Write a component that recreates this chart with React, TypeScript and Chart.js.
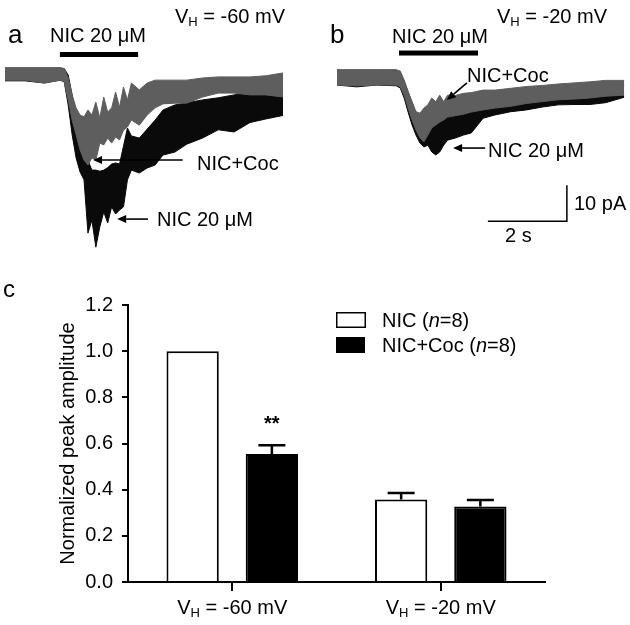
import React, { useEffect, useRef } from "react";
import { Chart, registerables } from "chart.js";

Chart.register(...registerables);

const FONT = 'Arial, "Liberation Sans", Helvetica, sans-serif';
const BLACK = "#0a0a0a";
const GRAY = "#5e5e5e";

// ---------- Panel a (VH = -60 mV): time (s) and current envelopes (pA) ----------
const timeA = [0, 0.5, 1.0, 1.4, 1.5, 1.6, 1.7, 1.8, 1.9, 2.0, 2.1, 2.2, 2.3, 2.4, 2.5, 2.6, 2.7, 2.8, 2.9, 3.0, 3.1, 3.2, 3.4, 3.6, 3.8, 4.0, 4.3, 4.6, 5.0, 5.4, 5.8, 6.2, 6.6, 7.04];
const nicUpperA = [1.7, 1.7, 1.7, 1.7, 1.5, -0.3, -5.8, -11.4, -15.6, -20.0, -24.0, -26.7, -26.7, -27.0, -26.7, -26.0, -25.0, -24.7, -25.0, -20.0, -15.0, -17.2, -17.8, -15.3, -12.8, -10.0, -8.6, -8.0, -7.2, -6.6, -5.8, -5.0, -4.4, -4.0];
const nicLowerA = [-1.9, -1.9, -2.5, -1.7, -2.2, -8.6, -16.9, -23.3, -27.2, -29.4, -44.2, -40.6, -48.1, -42.5, -38.3, -41.4, -36.9, -38.9, -37.8, -36.9, -29.4, -26.7, -27.5, -26.1, -25.3, -22.5, -21.7, -19.5, -17.8, -15.5, -16.1, -13.5, -12.5, -11.5];
const cocUpperA = [1.7, 1.7, 1.7, 1.7, 1.5, -1.1, -5.8, -9.4, -11.4, -11.9, -10.0, -11.4, -7.8, -12.2, -6.4, -10.6, -9.4, -5.0, -9.2, -3.6, -7.2, -2.5, -4.4, -2.5, -1.7, -1.7, -1.7, -1.7, -1.1, -0.8, -0.8, -0.8, -0.5, 0.3];
const cocLowerA = [-1.7, -1.7, -2.5, -1.7, -2.2, -7.2, -12.8, -16.9, -21.1, -23.9, -25.3, -23.3, -23.9, -19.2, -19.7, -17.8, -19.2, -17.5, -18.3, -15.6, -14.7, -12.8, -14.2, -11.4, -9.4, -8.3, -8.1, -8.1, -6.4, -5.3, -5.3, -5.8, -5.8, -6.4];

// ---------- Panel b (VH = -20 mV) ----------
const timeB = [0, 0.5, 1.0, 1.5, 1.6, 1.7, 1.8, 1.9, 2.0, 2.1, 2.2, 2.3, 2.4, 2.5, 2.6, 2.7, 2.8, 3.0, 3.2, 3.4, 3.7, 4.0, 4.4, 4.8, 5.2, 5.6, 6.0, 6.4, 6.8, 7.27];
const nicUpperB = [2.1, 2.1, 2.1, 2.1, 1.5, -1.0, -4.0, -7.0, -10.0, -12.0, -13.0, -12.0, -11.0, -10.0, -10.0, -9.5, -9.0, -8.0, -7.5, -7.0, -6.0, -5.5, -5.0, -4.5, -4.0, -3.5, -3.2, -3.0, -2.5, -2.0];
const nicLowerB = [-2.1, -2.6, -2.1, -2.3, -2.9, -5.7, -9.6, -13.2, -16.0, -18.2, -19.3, -18.8, -20.7, -21.5, -20.7, -18.8, -17.4, -16.8, -16.0, -15.4, -11.3, -10.4, -9.5, -9.0, -8.2, -7.6, -7.5, -7.5, -7.0, -5.5];
const cocUpperB = [2.1, 2.1, 2.1, 2.1, 1.8, -0.7, -3.9, -6.7, -9.5, -9.9, -8.5, -7.6, -5.7, -6.7, -4.9, -6.7, -4.9, -5.0, -4.4, -4.2, -3.5, -3.5, -3.0, -2.5, -2.2, -1.8, -1.5, -1.2, -0.8, -0.8];
const cocLowerB = [-2.1, -2.3, -2.1, -2.1, -2.6, -4.9, -8.5, -11.8, -14.6, -16.8, -17.9, -16.0, -14.0, -13.2, -12.4, -11.8, -11.0, -10.6, -10.2, -9.6, -9.0, -8.5, -8.0, -7.2, -6.7, -6.2, -6.0, -5.7, -5.2, -4.9];

// drug application windows (s)
const drugA = [1.39, 3.37];
const drugB = [1.57, 3.57];
// scale bar sizes
const scaleBarSeconds = 2;
const scaleBarPicoAmps = 10;

// ---------- Panel c: bar chart ----------
const holdingLabels = ["= -60 mV", "= -20 mV"];
const nicMean = [1.0, 0.357];
const nicSem = [0, 0.029];
const cocMean = [0.555, 0.327];
const cocSem = [0.037, 0.028];
const significance = ["**", ""];
const yTickMax = 1.2;
const yTickStep = 0.2;

type Part = { t: string; size: number; italic?: boolean; bold?: boolean; dy?: number };
const fontStr = (p: Part) => `${p.italic ? "italic " : ""}${p.bold ? "bold " : ""}${p.size}px ${FONT}`;

function drawRich(ctx: CanvasRenderingContext2D, parts: Part[], x: number, y: number, align: "left" | "center") {
  let total = 0;
  parts.forEach((p) => {
    ctx.font = fontStr(p);
    total += ctx.measureText(p.t).width;
  });
  let cx = align === "center" ? x - total / 2 : x;
  ctx.textAlign = "left";
  ctx.textBaseline = "alphabetic";
  ctx.fillStyle = "#000";
  parts.forEach((p) => {
    ctx.font = fontStr(p);
    ctx.fillText(p.t, cx, y + (p.dy || 0));
    cx += ctx.measureText(p.t).width;
  });
}

function drawArrow(ctx: CanvasRenderingContext2D, x1: number, y1: number, x2: number, y2: number) {
  const ang = Math.atan2(y2 - y1, x2 - x1);
  const head = 9;
  const hw = 4;
  const bx = x2 - head * Math.cos(ang);
  const by = y2 - head * Math.sin(ang);
  ctx.strokeStyle = "#000";
  ctx.fillStyle = "#000";
  ctx.lineWidth = 1.6;
  ctx.beginPath();
  ctx.moveTo(x1, y1);
  ctx.lineTo(bx, by);
  ctx.stroke();
  ctx.beginPath();
  ctx.moveTo(x2, y2);
  ctx.lineTo(bx + hw * Math.sin(ang), by - hw * Math.cos(ang));
  ctx.lineTo(bx - hw * Math.sin(ang), by + hw * Math.cos(ang));
  ctx.closePath();
  ctx.fill();
}

type TraceCfg = {
  left: number;
  top: number;
  width: number;
  height: number;
  xMax: number;
  yMin: number;
  yMax: number;
  time: number[];
  nicU: number[];
  nicL: number[];
  cocU: number[];
  cocL: number[];
  drug: number[];
  drugLevel: number;
  arrows: { from: number[]; to: number[] }[];
  scaleBar?: { corner: number[] };
};

function TraceChart({ cfg }: { cfg: TraceCfg }) {
  const ref = useRef<HTMLCanvasElement>(null);
  useEffect(() => {
    const pts = (arr: number[]) => arr.map((v, i) => ({ x: cfg.time[i], y: v }));
    const extras = {
      id: "traceExtras",
      afterDatasetsDraw(chart: any) {
        const ctx = chart.ctx as CanvasRenderingContext2D;
        const xs = chart.scales.x;
        const ys = chart.scales.y;
        ctx.save();
        const x0 = xs.getPixelForValue(cfg.drug[0]);
        const x1 = xs.getPixelForValue(cfg.drug[1]);
        const yb = ys.getPixelForValue(cfg.drugLevel);
        ctx.fillStyle = "#000";
        ctx.fillRect(x0, yb - 2.5, x1 - x0, 5);
        cfg.arrows.forEach((a) =>
          drawArrow(
            ctx,
            xs.getPixelForValue(a.from[0]),
            ys.getPixelForValue(a.from[1]),
            xs.getPixelForValue(a.to[0]),
            ys.getPixelForValue(a.to[1])
          )
        );
        if (cfg.scaleBar) {
          const [ct, ci] = cfg.scaleBar.corner;
          const cx = xs.getPixelForValue(ct);
          const cy = ys.getPixelForValue(ci);
          const vy = ys.getPixelForValue(ci + scaleBarPicoAmps);
          const hx = xs.getPixelForValue(ct - scaleBarSeconds);
          ctx.strokeStyle = "#000";
          ctx.lineWidth = 1.5;
          ctx.beginPath();
          ctx.moveTo(cx, vy);
          ctx.lineTo(cx, cy);
          ctx.lineTo(hx, cy);
          ctx.stroke();
        }
        ctx.restore();
      },
    };
    const chart = new Chart(ref.current as HTMLCanvasElement, {
      type: "line",
      data: {
        datasets: [
          { data: pts(cfg.cocU), borderColor: GRAY, backgroundColor: GRAY, fill: "+1", borderWidth: 1 },
          { data: pts(cfg.cocL), borderColor: GRAY, backgroundColor: GRAY, fill: false, borderWidth: 1 },
          { data: pts(cfg.nicU), borderColor: BLACK, backgroundColor: BLACK, fill: "+1", borderWidth: 1 },
          { data: pts(cfg.nicL), borderColor: BLACK, backgroundColor: BLACK, fill: false, borderWidth: 1 },
        ],
      } as any,
      options: {
        responsive: false,
        animation: false,
        layout: { padding: 0 },
        elements: { point: { radius: 0 }, line: { tension: 0 } },
        scales: {
          x: { type: "linear", display: false, min: 0, max: cfg.xMax },
          y: { type: "linear", display: false, min: cfg.yMin, max: cfg.yMax },
        },
        plugins: { legend: { display: false }, tooltip: { enabled: false } },
      } as any,
      plugins: [extras],
    });
    return () => chart.destroy();
  }, []);
  return (
    <canvas
      ref={ref}
      width={cfg.width}
      height={cfg.height}
      style={{ position: "absolute", left: cfg.left, top: cfg.top, width: cfg.width, height: cfg.height }}
    />
  );
}

function BarChart() {
  const ref = useRef<HTMLCanvasElement>(null);
  useEffect(() => {
    const extras = {
      id: "barExtras",
      afterDatasetsDraw(chart: any) {
        const ctx = chart.ctx as CanvasRenderingContext2D;
        const ys = chart.scales.y;
        const xs = chart.scales.x;
        const means = [nicMean, cocMean];
        const sems = [nicSem, cocSem];
        ctx.save();
        [0, 1].forEach((di) => {
          const meta = chart.getDatasetMeta(di);
          meta.data.forEach((bar: any, i: number) => {
            const s = sems[di][i];
            const yTop = ys.getPixelForValue(means[di][i] + s);
            if (s > 0) {
              const yBar = ys.getPixelForValue(means[di][i]);
              ctx.strokeStyle = "#000";
              ctx.lineWidth = 2.5;
              ctx.beginPath();
              ctx.moveTo(bar.x, yBar);
              ctx.lineTo(bar.x, yTop);
              ctx.moveTo(bar.x - 13.5, yTop);
              ctx.lineTo(bar.x + 13.5, yTop);
              ctx.stroke();
            }
            if (di === 1 && significance[i]) {
              drawRich(ctx, [{ t: significance[i], size: 20, bold: true }], bar.x, yTop - 15, "center");
            }
          });
        });
        holdingLabels.forEach((lab, i) => {
          drawRich(
            ctx,
            [
              { t: "V", size: 20 },
              { t: "H", size: 13, dy: 3 },
              { t: " " + lab, size: 20 },
            ],
            xs.getPixelForValue(i),
            chart.chartArea.bottom + 32,
            "center"
          );
        });
        // legend
        ctx.fillStyle = "#fff";
        ctx.fillRect(336, 37, 29, 15);
        ctx.strokeStyle = "#000";
        ctx.lineWidth = 1.5;
        ctx.strokeRect(336.75, 37.75, 28.5, 14.5);
        ctx.fillStyle = "#000";
        ctx.fillRect(336, 62, 29, 16);
        drawRich(ctx, [{ t: "NIC (", size: 20 }, { t: "n", size: 20, italic: true }, { t: "=8)", size: 20 }], 382, 52, "left");
        drawRich(ctx, [{ t: "NIC+Coc (", size: 20 }, { t: "n", size: 20, italic: true }, { t: "=8)", size: 20 }], 382, 77, "left");
        ctx.restore();
      },
    };
    const chart = new Chart(ref.current as HTMLCanvasElement, {
      type: "bar",
      data: {
        labels: holdingLabels,
        datasets: [
          {
            label: "NIC (n=8)",
            data: nicMean,
            backgroundColor: "#fff",
            borderColor: "#000",
            borderWidth: 2,
            borderSkipped: "start",
            categoryPercentage: 0.76,
            barPercentage: 0.66,
          },
          {
            label: "NIC+Coc (n=8)",
            data: cocMean,
            backgroundColor: "#000",
            borderColor: "#000",
            borderWidth: 2,
            borderSkipped: "start",
            categoryPercentage: 0.76,
            barPercentage: 0.66,
          },
        ],
      },
      options: {
        responsive: false,
        animation: false,
        layout: { padding: { left: 0, top: 30, right: 85, bottom: 0 } },
        plugins: { legend: { display: false }, tooltip: { enabled: false } },
        scales: {
          x: {
            type: "category",
            offset: true,
            grid: { display: true, offset: false, drawOnChartArea: false, drawTicks: true, tickLength: 9, color: "#000", lineWidth: 2 },
            border: { display: true, color: "#000", width: 2 },
            ticks: { callback: () => "", padding: 0 },
            afterFit: (s: any) => {
              s.height = 43;
            },
          },
          y: {
            type: "linear",
            min: 0,
            max: yTickMax,
            grid: { display: true, drawOnChartArea: false, drawTicks: true, tickLength: 6, color: "#000", lineWidth: 2 },
            border: { display: true, color: "#000", width: 2 },
            ticks: {
              stepSize: yTickStep,
              color: "#000",
              padding: 9,
              font: { family: FONT, size: 20 },
              callback: (v: any) => Number(v).toFixed(1),
            },
            title: {
              display: true,
              text: "Normalized peak amplitude",
              color: "#000",
              font: { family: FONT, size: 20 },
              padding: { top: 56, bottom: 0 },
            },
            afterFit: (s: any) => {
              s.width = 128;
            },
          },
        },
      } as any,
      plugins: [extras],
    });
    return () => chart.destroy();
  }, []);
  return (
    <canvas ref={ref} width={630} height={350} style={{ position: "absolute", left: 0, top: 275, width: 630, height: 350 }} />
  );
}

function Label({ x, baseline, size, children }: { x: number; baseline: number; size: number; children: any }) {
  return (
    <div
      style={{
        position: "absolute",
        left: x,
        top: baseline - 0.8465 * size,
        fontSize: size,
        lineHeight: `${size}px`,
        whiteSpace: "nowrap",
        fontFamily: FONT,
        color: "#000",
      }}
    >
      {children}
    </div>
  );
}

const Sub = ({ children }: { children: any }) => (
  <span style={{ fontSize: 13, position: "relative", top: 3 }}>{children}</span>
);

const panelA: TraceCfg = {
  left: 5,
  top: 45,
  width: 285,
  height: 210,
  xMax: 7.215,
  yMin: -50.28,
  yMax: 8.06,
  time: timeA,
  nicU: nicUpperA,
  nicL: nicLowerA,
  cocU: cocUpperA,
  cocL: cocLowerA,
  drug: drugA,
  drugLevel: 5.42,
  arrows: [
    { from: [4.5, -23.9], to: [2.23, -23.9] },
    { from: [3.62, -40.3], to: [2.84, -40.3] },
  ],
};

const panelB: TraceCfg = {
  left: 337,
  top: 45,
  width: 293,
  height: 205,
  xMax: 7.418,
  yMin: -47.92,
  yMax: 9.03,
  time: timeB,
  nicU: nicUpperB,
  nicL: nicLowerB,
  cocU: cocUpperB,
  cocL: cocLowerB,
  drug: drugB,
  drugLevel: 6.8,
  arrows: [
    { from: [3.29, -1.5], to: [2.78, -6.25] },
    { from: [3.75, -19.6], to: [2.94, -19.6] },
  ],
  scaleBar: { corner: [5.82, -39.9] },
};

export default function App() {
  return (
    <div style={{ position: "absolute", left: 0, top: 0, width: 630, height: 625, background: "#fff", overflow: "hidden" }}>
      <TraceChart cfg={panelA} />
      <TraceChart cfg={panelB} />
      <BarChart />
      <Label x={8} baseline={43} size={26}>a</Label>
      <Label x={50} baseline={42} size={20}>NIC 20 μM</Label>
      <Label x={175} baseline={23} size={20}>
        V<Sub>H</Sub> = -60 mV
      </Label>
      <Label x={197} baseline={170} size={20}>NIC+Coc</Label>
      <Label x={157} baseline={226} size={20}>NIC 20 μM</Label>
      <Label x={330} baseline={43} size={26}>b</Label>
      <Label x={392} baseline={43} size={20}>NIC 20 μM</Label>
      <Label x={497} baseline={23} size={20}>
        V<Sub>H</Sub> = -20 mV
      </Label>
      <Label x={467} baseline={82} size={20}>NIC+Coc</Label>
      <Label x={488} baseline={157} size={20}>NIC 20 μM</Label>
      <Label x={574} baseline={210} size={20}>10 pA</Label>
      <Label x={505} baseline={242} size={20}>2 s</Label>
      <Label x={3} baseline={297} size={24}>c</Label>
    </div>
  );
}
